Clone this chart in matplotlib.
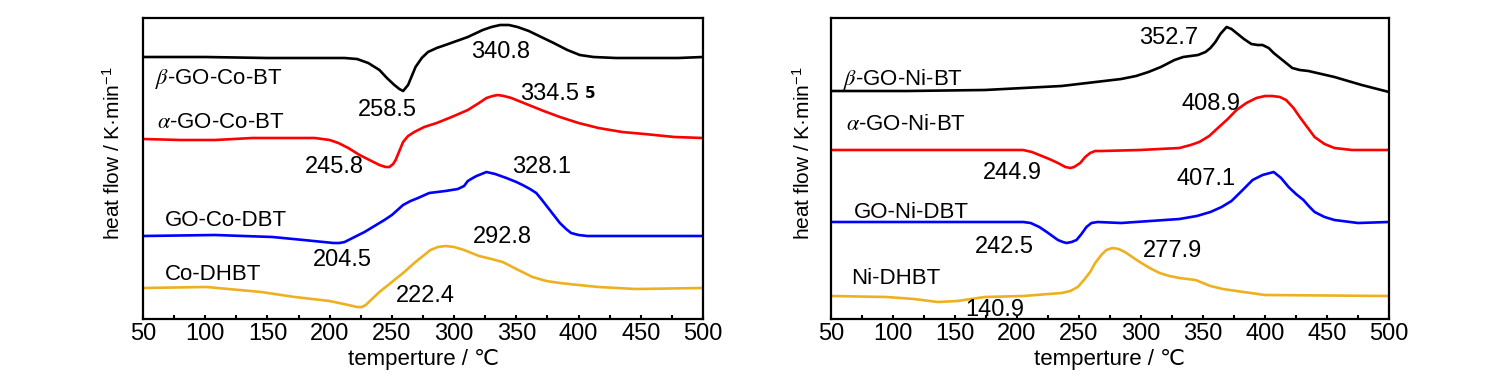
import matplotlib
matplotlib.use("Agg")
import matplotlib.pyplot as plt
from matplotlib import font_manager
from matplotlib.ticker import MultipleLocator

# heat flow curves (arbitrary units, no y scale)
temp_ticks = [50, 100, 150, 200, 250, 300, 350, 400, 450, 500]

co_beta_T = [50, 100, 150, 200, 212, 222, 231, 240, 246, 252, 256, 259, 263, 266, 269, 274, 279, 286, 293, 311, 323, 330, 337, 344, 351, 360, 370, 380, 391, 401, 412, 430, 460, 480, 500]
co_beta_q = [262, 262, 261, 261, 261, 260, 256, 249, 241, 234, 230, 228, 234, 243, 252, 261, 267, 271, 274, 282, 289, 292, 294, 294, 292, 288, 282, 276, 269, 264, 262, 261, 261, 261, 262]

co_alpha_T = [50, 80, 108, 138, 188, 200, 207, 215, 224, 232, 240, 245, 248, 251, 253, 256, 259, 263, 268, 276, 286, 298, 311, 320, 326, 331, 335, 340, 346, 360, 372, 385, 400, 416, 435, 453, 477, 500]
co_alpha_q = [180, 179, 179, 181, 181, 179, 176, 171, 164, 159, 154, 152, 152, 155, 159, 168, 177, 183, 187, 192, 196, 202, 209, 216, 221, 223, 224, 223, 221, 214, 208, 202, 196, 191, 187, 185, 182, 181]

co_dbt_T = [50, 108, 154, 179, 195, 203, 208, 212, 220, 228, 236, 244, 250, 259, 265, 271, 280, 293, 303, 308, 311, 315, 318, 322, 326, 333, 342, 350, 355, 361, 366, 370, 375, 380, 385, 390, 394, 400, 407, 450, 500]
co_dbt_q = [83, 84, 82, 79, 77, 76, 76, 77, 82, 87, 93, 99, 104, 114, 118, 121, 126, 128, 130, 133, 138, 141, 143, 145, 147, 145, 141, 137, 134, 130, 126, 120, 112, 104, 96, 90, 86, 84, 83, 83, 83]

co_dhbt_T = [50, 101, 145, 172, 200, 215, 222, 226, 229, 234, 240, 246, 252, 260, 268, 275, 281, 287, 293, 300, 308, 320, 330, 339, 350, 363, 374, 385, 400, 416, 446, 500]
co_dhbt_q = [31, 32, 27, 22, 18, 14, 12, 12, 14, 20, 27, 33, 39, 47, 56, 63, 69, 72, 73, 72, 69, 63, 60, 57, 50, 42, 38, 36, 34, 32, 30, 31]

ni_beta_T = [50, 111, 174, 236, 284, 296, 306, 316, 327, 334, 340, 346, 352, 356, 360, 364, 369, 373, 377, 383, 389, 394, 398, 403, 407, 415, 422, 428, 435, 456, 478, 500]
ni_beta_q = [228, 228, 229, 233, 240, 243, 247, 252, 259, 262, 263, 264, 267, 271, 277, 285, 292, 290, 286, 280, 275, 274, 274, 271, 266, 258, 251, 249, 248, 242, 234, 227]

ni_alpha_T = [50, 205, 212, 218, 226, 233, 239, 243, 246, 251, 255, 259, 263, 268, 299, 331, 340, 347, 355, 362, 370, 377, 385, 393, 400, 406, 412, 417, 423, 428, 434, 440, 448, 456, 470, 500]
ni_alpha_q = [169, 169, 167, 164, 160, 156, 152, 151, 152, 156, 162, 166, 168, 168, 169, 171, 174, 177, 183, 191, 200, 209, 216, 221, 223, 223, 222, 219, 211, 202, 192, 182, 175, 171, 169, 169]

ni_dbt_T = [50, 205, 211, 218, 224, 233, 237, 240, 244, 248, 252, 256, 260, 265, 284, 331, 345, 356, 365, 373, 382, 390, 398, 407, 413, 419, 425, 431, 436, 440, 448, 456, 475, 500]
ni_dbt_q = [97, 97, 96, 92, 87, 79, 77, 76, 77, 79, 85, 92, 96, 97, 96, 100, 103, 107, 112, 118, 129, 139, 144, 147, 141, 132, 125, 119, 112, 107, 102, 99, 96, 97]

ni_dhbt_T = [50, 95, 117, 136, 152, 174, 205, 236, 243, 249, 254, 259, 263, 268, 272, 277, 282, 287, 293, 299, 307, 315, 323, 331, 344, 356, 366, 377, 400, 500]
ni_dhbt_q = [23, 22, 20, 17, 18, 22, 23, 26, 28, 32, 39, 47, 56, 64, 69, 71, 70, 67, 62, 57, 51, 46, 43, 41, 39, 33, 30, 28, 24, 23]

co_names = [r"$\mathit{\beta}$-GO-Co-BT", r"$\mathit{\alpha}$-GO-Co-BT", "GO-Co-DBT", "Co-DHBT"]
ni_names = [r"$\mathit{\beta}$-GO-Ni-BT", r"$\mathit{\alpha}$-GO-Ni-BT", "GO-Ni-DBT", "Ni-DHBT"]
colors = ["#000000", "#ff0000", "#0000ff", "#EDB120"]

# peak temperature labels
co_peaks = ["340.8", "258.5", "334.5", "245.8", "328.1", "204.5", "292.8", "222.4"]
ni_peaks = ["352.7", "244.9", "408.9", "407.1", "242.5", "277.9", "140.9"]

names = [f.name for f in font_manager.fontManager.ttflist]
main_font = "Liberation Sans Narrow" if "Liberation Sans Narrow" in names else "Liberation Sans"
plt.rcParams["font.family"] = [main_font, "DejaVu Sans"]
plt.rcParams["mathtext.fontset"] = "stix"
plt.rcParams["mathtext.default"] = "regular"

fig = plt.figure(figsize=(15.06, 3.87), dpi=100)
ax1 = fig.add_axes([143 / 1506, 1 - 319 / 387, 560 / 1506, 301 / 387])
ax2 = fig.add_axes([831 / 1506, 1 - 319 / 387, 558 / 1506, 301 / 387])

co_curves = [(co_beta_T, co_beta_q), (co_alpha_T, co_alpha_q), (co_dbt_T, co_dbt_q), (co_dhbt_T, co_dhbt_q)]
ni_curves = [(ni_beta_T, ni_beta_q), (ni_alpha_T, ni_alpha_q), (ni_dbt_T, ni_dbt_q), (ni_dhbt_T, ni_dhbt_q)]

for ax, curves in [(ax1, co_curves), (ax2, ni_curves)]:
    for (T, q), c in zip(curves, colors):
        ax.plot(T, q, color=c, lw=1.9, solid_joinstyle="round", solid_capstyle="round")
    ax.set_xlim(50, 500)
    ax.set_ylim(0, 301)
    ax.set_xticks(temp_ticks)
    ax.xaxis.set_minor_locator(MultipleLocator(25))
    ax.set_yticks([])
    ax.tick_params(axis="x", which="both", direction="in", length=3, width=1.5,
                   labelsize=17, pad=3)
    for s in ax.spines.values():
        s.set_linewidth(1.6)
    ax.set_xlabel("temperture / \u2103", fontsize=16, labelpad=3)

lab_fs = 16
num_fs = 17

# left panel texts
for name, x, y in zip(co_names, [60, 61, 67.7, 67.7], [240, 196, 99, 44]):
    ax1.text(x, y, name, fontsize=lab_fs, ha="left", va="center")
for txt, x, y in zip(co_peaks, [337.7, 246, 377, 204, 370, 210, 338.5, 276.6],
                     [267, 209, 225, 152, 152, 59, 82, 23]):
    ax1.text(x, y, txt, fontsize=num_fs, ha="center", va="center")
ax1.text(409, 225, "5", fontsize=11, fontweight="bold", family="DejaVu Sans",
         ha="center", va="center")

# right panel texts
for name, x, y in zip(ni_names, [59.7, 62, 68.5, 66], [239, 194, 106, 41]):
    ax2.text(x, y, name, fontsize=lab_fs, ha="left", va="center")
for txt, x, y in zip(ni_peaks, [322.6, 196, 356.5, 352.4, 189.5, 325, 182],
                     [281, 146, 215, 140, 72, 68, 9]):
    ax2.text(x, y, txt, fontsize=num_fs, ha="center", va="center")

for xpos in [113, 803]:
    fig.text(xpos / 1506, 1 - 153 / 387, "heat flow / K\u00b7min$^{-1}$", fontsize=15,
             rotation=90, ha="center", va="center")

fig.savefig("out.png", dpi=100)
